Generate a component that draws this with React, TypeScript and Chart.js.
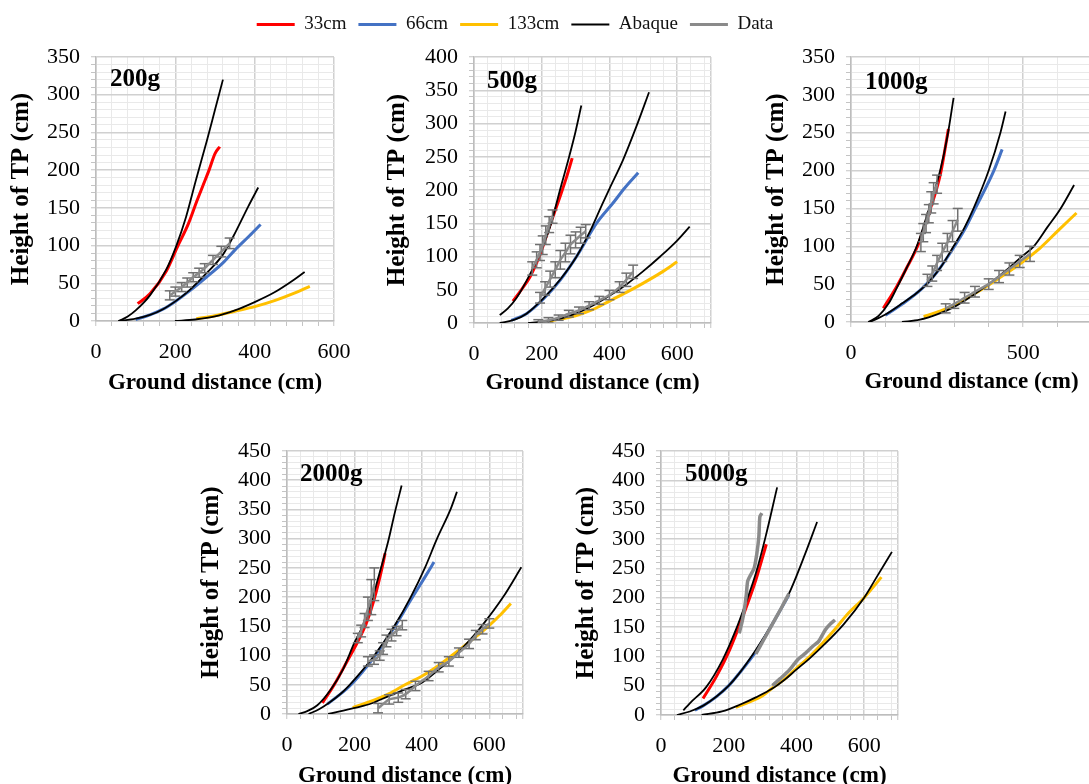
import React, { useEffect, useRef } from "react";
import { Chart, registerables } from "chart.js";
Chart.register(...registerables);

type Pt = [number, number];
const FONT = "'Liberation Serif', 'Times New Roman', serif";
Chart.defaults.font.family = FONT;

const seriesNames = ["33cm", "66cm", "133cm", "Abaque", "Data"];
const seriesColors = ["#ff0000", "#4472c4", "#ffc000", "#000000", "#8a8a8a"];
const legendWidths = [3, 3, 3, 2, 3];

// ---------- 200 g ----------
const abq200A: Pt[] = [[58,0],[80,6],[100,14],[136,34],[177,68],[202,99],[227,138],[252,187],[280,240],[300,280],[320,320]];
const abq200B: Pt[] = [[56,0],[100,3],[136,8],[170,16],[200,26],[236,41],[278,63],[320,88],[346,112],[384,152],[409,177]];
const abq200C: Pt[] = [[199,0],[250,2],[300,6],[350,14],[400,25],[450,38],[500,55],[526,65]];
const red200: Pt[] = [[105,23],[136,36],[177,66],[205,98],[233,129],[255,160],[270,180],[285,200],[300,222],[312,231]];
const blue200: Pt[] = [[100,2],[136,8],[170,16],[200,26],[236,40],[278,58],[320,77],[350,94],[387,113],[415,128]];
const yel200: Pt[] = [[253,3],[300,7],[350,13],[400,19],[450,27],[500,37],[539,46]];
const dat200B: Pt[] = [[186,34],[200,39],[216,45],[230,51],[245,58],[260,64],[274,70],[295,81],[316,92],[337,103]];
const err200B = [6,6,6,6,6,6,6,6,7,7];

// ---------- 500 g ----------
const abq500A: Pt[] = [[76,12],[100,22],[126,38],[166,74],[195,105],[225,145],[254,200],[280,248],[300,288],[317,327]];
const abq500B: Pt[] = [[76,0],[120,5],[155,14],[205,37],[254,65],[303,100],[340,135],[380,180],[401,203],[440,245],[480,296],[517,347]];
const abq500C: Pt[] = [[160,0],[200,2],[250,6],[300,14],[350,26],[400,41],[450,58],[500,78],[550,100],[600,124],[637,145]];
const red500: Pt[] = [[115,33],[140,50],[166,70],[195,103],[225,148],[254,190],[275,222],[290,248]];
const blue500: Pt[] = [[110,4],[155,14],[205,36],[254,64],[303,100],[362,150],[410,180],[445,203],[485,226]];
const yel500: Pt[] = [[224,3],[300,11],[350,20],[400,33],[450,46],[500,60],[550,75],[600,92]];
const dat500A: Pt[] = [[172,82],[185,95],[195,106],[203,117],[212,132],[222,148],[232,160]];
const err500A = [10,12,12,14,14,12,10];
const dat500B: Pt[] = [[195,38],[210,52],[225,66],[240,80],[255,95],[270,106],[285,118],[300,125],[315,132],[330,138]];
const err500B = [8,10,12,12,14,14,14,12,12,10];
const dat500C: Pt[] = [[190,2],[220,4],[250,8],[280,14],[310,19],[340,26],[370,34],[400,42],[430,54],[450,65],[470,77]];
const err500C = [3,4,4,5,5,6,6,7,8,10,10];

// ---------- 1000 g ----------
const abq1000A: Pt[] = [[50,0],[80,8],[110,25],[133,45],[160,70],[191,100],[220,140],[259,200],[280,245],[298,296]];
const abq1000B: Pt[] = [[55,0],[100,10],[150,25],[190,38],[220,50],[260,72],[298,100],[330,125],[356,150],[400,200],[434,250],[449,278]];
const abq1000C: Pt[] = [[148,0],[200,3],[250,10],[300,20],[350,34],[400,50],[450,68],[500,88],[531,100],[570,125],[609,150],[648,181]];
const red1000: Pt[] = [[94,18],[133,47],[160,70],[195,102],[225,142],[260,196],[283,255]];
const blue1000: Pt[] = [[100,9],[150,24],[206,44],[250,66],[298,98],[330,122],[361,150],[415,200],[439,228]];
const yel1000: Pt[] = [[211,7],[250,13],[300,22],[350,35],[400,49],[450,64],[500,80],[550,98],[600,120],[655,144]];
const dat1000A: Pt[] = [[203,105],[210,118],[218,130],[226,143],[233,158],[240,170],[250,182]];
const err1000A = [12,12,12,12,14,14,12];
const dat1000B: Pt[] = [[222,55],[236,64],[250,78],[265,92],[280,105],[295,120],[310,135]];
const err1000B = [8,10,10,12,12,14,15];
const dat1000C: Pt[] = [[275,18],[300,24],[330,32],[360,40],[400,50],[430,60],[460,70],[490,80],[520,90]];
const err1000C = [6,6,7,7,7,8,8,8,10];

// ---------- 2000 g ----------
const abq2000A: Pt[] = [[34,0],[60,5],[90,15],[130,42],[165,75],[200,122],[224,150],[250,192],[274,240],[300,295],[320,345],[340,391]];
const abq2000B: Pt[] = [[64,0],[95,8],[127,20],[160,35],[186,50],[220,72],[259,100],[318,150],[367,200],[409,250],[445,300],[485,350],[504,380]];
const abq2000C: Pt[] = [[122,0],[205,11],[250,18],[303,31],[350,42],[401,54],[450,76],[499,100],[540,125],[577,150],[641,200],[695,251]];
const red2000: Pt[] = [[105,19],[140,50],[180,92],[210,124],[235,155],[250,180],[265,210],[281,248],[291,275]];
const blue2000: Pt[] = [[120,17],[186,48],[259,98],[318,148],[367,195],[410,235],[436,260]];
const yel2000: Pt[] = [[195,11],[250,22],[303,35],[350,50],[401,65],[440,79],[489,100],[540,123],[597,150],[630,168],[664,189]];
const dat2000A: Pt[] = [[210,130],[220,142],[230,160],[240,180],[250,200],[259,222]];
const err2000A = [8,10,12,20,30,28];
const dat2000B: Pt[] = [[240,90],[258,93],[275,100],[285,112],[295,125],[310,135],[325,142],[342,152]];
const err2000B = [8,8,8,10,10,10,8,8];
const dat2000C: Pt[] = [[270,10],[303,25],[330,28],[352,34],[381,48],[420,65],[450,80],[480,90],[510,105],[540,120],[560,135],[580,145],[600,155]];
const err2000C = [8,8,8,8,8,8,8,8,8,8,8,8,8];

// ---------- 5000 g ----------
const abq5000A: Pt[] = [[66,8],[85,20],[134,48],[182,94],[221,145],[250,190],[280,241],[309,304],[343,388]];
const abq5000B: Pt[] = [[47,0],[85,6],[125,16],[163,31],[200,50],[231,71],[280,111],[329,156],[378,207],[426,275],[461,329]];
const abq5000C: Pt[] = [[120,0],[180,6],[231,17],[280,30],[329,45],[365,60],[397,76],[440,97],[475,116],[540,155],[600,200],[640,238],[682,278]];
const red5000: Pt[] = [[124,28],[163,65],[202,110],[241,167],[280,230],[311,291]];
const blue5000: Pt[] = [[100,8],[125,16],[163,31],[200,50],[231,71],[280,108],[329,155],[378,205]];
const yel5000: Pt[] = [[221,13],[260,22],[300,33],[329,46],[365,61],[397,78],[440,100],[475,121],[514,146],[548,170],[600,200],[651,235]];
const dat5000A: Pt[] = [[231,139],[240,160],[246,179],[252,205],[256,228],[265,239],[275,250],[283,275],[289,304],[292,338],[298,344]];
const dat5000B: Pt[] = [[280,104],[305,130],[329,155],[355,182],[378,207]];
const dat5000C: Pt[] = [[329,50],[352,62],[378,76],[405,95],[426,105],[450,118],[465,125],[485,145],[500,155],[514,162]];

// tick labels
const xLabels600 = [0, 200, 400, 600];
const xLabels500 = [0, 500];
const yLabels350 = [0, 50, 100, 150, 200, 250, 300, 350];
const yLabels400 = [0, 50, 100, 150, 200, 250, 300, 350, 400];
const yLabels450 = [0, 50, 100, 150, 200, 250, 300, 350, 400, 450];

interface DataSet { pts: Pt[]; err?: number[] }
interface PanelCfg {
  label: string; xMax: number; yMax: number; xMinor: number; yMinor: number;
  xLabels: number[]; yLabels: number[];
  red: Pt[]; blue: Pt[]; yellow: Pt[]; abaque: Pt[][]; data: DataSet[]; dataWidth: number;
  box: { x: number; y: number; w: number; h: number };
  axisW: number; axisH: number; padTop: number; padRight: number;
  yTitlePad: number; xTitlePad: number; tag: { dx: number; dy: number };
}

const panels: PanelCfg[] = [
  { label: "200g", xMax: 600, yMax: 350, xMinor: 40, yMinor: 10, xLabels: xLabels600, yLabels: yLabels350,
    red: red200, blue: blue200, yellow: yel200, abaque: [abq200A, abq200B, abq200C],
    data: [{ pts: dat200B, err: err200B }], dataWidth: 2.5,
    box: { x: 0, y: 40, w: 354, h: 360 }, axisW: 96, axisH: 79, padTop: 17, padRight: 20,
    yTitlePad: 7, xTitlePad: 3, tag: { dx: 14, dy: 23 } },
  { label: "500g", xMax: 700, yMax: 400, xMinor: 40, yMinor: 10, xLabels: xLabels600, yLabels: yLabels400,
    red: red500, blue: blue500, yellow: yel500, abaque: [abq500A, abq500B, abq500C],
    data: [{ pts: dat500A, err: err500A }, { pts: dat500B, err: err500B }, { pts: dat500C, err: err500C }], dataWidth: 2.5,
    box: { x: 370, y: 40, w: 360, h: 360 }, axisW: 104, axisH: 77, padTop: 17, padRight: 19,
    yTitlePad: 13, xTitlePad: 3, tag: { dx: 13, dy: 25 } },
  { label: "1000g", xMax: 700, yMax: 350, xMinor: 100, yMinor: 10, xLabels: xLabels500, yLabels: yLabels350,
    red: red1000, blue: blue1000, yellow: yel1000, abaque: [abq1000A, abq1000B, abq1000C],
    data: [{ pts: dat1000A, err: err1000A }, { pts: dat1000B, err: err1000B }, { pts: dat1000C, err: err1000C }], dataWidth: 2.5,
    box: { x: 745, y: 40, w: 360, h: 360 }, axisW: 106, axisH: 78, padTop: 17, padRight: 13,
    yTitlePad: 17, xTitlePad: 4, tag: { dx: 14, dy: 26 } },
  { label: "2000g", xMax: 700, yMax: 450, xMinor: 40, yMinor: 10, xLabels: xLabels600, yLabels: yLabels450,
    red: red2000, blue: blue2000, yellow: yel2000, abaque: [abq2000A, abq2000B, abq2000C],
    data: [{ pts: dat2000A, err: err2000A }, { pts: dat2000B, err: err2000B }, { pts: dat2000C, err: err2000C }], dataWidth: 2.5,
    box: { x: 190, y: 430, w: 350, h: 370 }, axisW: 97, axisH: 86, padTop: 21, padRight: 17,
    yTitlePad: 7, xTitlePad: 10, tag: { dx: 13, dy: 24 } },
  { label: "5000g", xMax: 700, yMax: 450, xMinor: 40, yMinor: 10, xLabels: xLabels600, yLabels: yLabels450,
    red: red5000, blue: blue5000, yellow: yel5000, abaque: [abq5000A, abq5000B, abq5000C],
    data: [{ pts: dat5000A }, { pts: dat5000B }, { pts: dat5000C }], dataWidth: 3.5,
    box: { x: 570, y: 430, w: 350, h: 370 }, axisW: 91, axisH: 85, padTop: 21, padRight: 22,
    yTitlePad: 2, xTitlePad: 10, tag: { dx: 24, dy: 24 } },
];

const toXY = (pts: Pt[]) => pts.map(([x, y]) => ({ x, y }));
function barsOf(pts: Pt[], err: number[]) {
  const out: { x: number; y: number | null }[] = [];
  pts.forEach(([x, y], i) => {
    out.push({ x, y: y - err[i] }, { x, y: y + err[i] }, { x, y: null });
  });
  return out;
}
function ticksFor(max: number, step: number) {
  const t: number[] = [];
  for (let v = 0; v <= max + 1e-9; v += step) t.push(v);
  if (t[t.length - 1] !== max) t.push(max);
  return t;
}

const panelTagPlugin = {
  id: "panelTag",
  afterDraw(chart: any, _a: any, opts: any) {
    const { ctx, chartArea } = chart;
    ctx.save();
    ctx.font = `bold 25px ${FONT}`;
    ctx.fillStyle = "#000";
    ctx.textBaseline = "middle";
    ctx.textAlign = "left";
    ctx.fillText(opts.text, chartArea.left + opts.dx, chartArea.top + opts.dy);
    ctx.restore();
  },
};

function Panel({ cfg }: { cfg: PanelCfg }) {
  const ref = useRef<HTMLCanvasElement>(null);
  useEffect(() => {
    const [cRed, cBlue, cYel, cBlack, cGray] = seriesColors;
    const datasets: any[] = [];
    cfg.data.forEach((d) => {
      datasets.push({ label: "Data", data: toXY(d.pts), showLine: true, borderColor: cGray, borderWidth: cfg.dataWidth,
        pointRadius: 0, tension: 0.2 });
      if (d.err) {
        datasets.push({ label: "err", data: barsOf(d.pts, d.err), showLine: true, spanGaps: false, borderColor: "#707070",
          borderWidth: 1.5, pointStyle: "line", pointRadius: 5, pointBorderColor: "#707070", pointBorderWidth: 1.5 });
      }
    });
    cfg.abaque.forEach((a) => {
      datasets.push({ label: "Abaque", data: toXY(a), showLine: true, borderColor: cBlack, borderWidth: 1.8,
        pointRadius: 0, cubicInterpolationMode: "monotone" });
    });
    datasets.push({ label: "33cm", data: toXY(cfg.red), showLine: true, borderColor: cRed, borderWidth: 3, pointRadius: 0, cubicInterpolationMode: "monotone" });
    datasets.push({ label: "66cm", data: toXY(cfg.blue), showLine: true, borderColor: cBlue, borderWidth: 3, pointRadius: 0, cubicInterpolationMode: "monotone" });
    datasets.push({ label: "133cm", data: toXY(cfg.yellow), showLine: true, borderColor: cYel, borderWidth: 3, pointRadius: 0, cubicInterpolationMode: "monotone" });

    const xTicks = ticksFor(cfg.xMax, cfg.xMinor);
    const yTicks = ticksFor(cfg.yMax, cfg.yMinor);
    const isMajX = (v: number) => cfg.xLabels.includes(v) || v === cfg.xMax;
    const isMajY = (v: number) => cfg.yLabels.includes(v);

    const chart = new Chart(ref.current!, {
      type: "scatter",
      data: { datasets },
      plugins: [panelTagPlugin],
      options: {
        animation: false,
        responsive: false,
        devicePixelRatio: 1,
        layout: { padding: { top: cfg.padTop, right: cfg.padRight, left: 0, bottom: 0 } },
        plugins: {
          legend: { display: false },
          tooltip: { enabled: false },
          panelTag: { text: cfg.label, dx: cfg.tag.dx, dy: cfg.tag.dy },
        } as any,
        scales: {
          x: {
            type: "linear", min: 0, max: cfg.xMax,
            afterBuildTicks: (s: any) => { s.ticks = xTicks.map((v) => ({ value: v })); },
            afterFit: (s: any) => { s.height = cfg.axisH; s.paddingLeft = 0; s.paddingRight = 0; s.paddingTop = 0; s.paddingBottom = 0; },
            ticks: { autoSkip: false, maxRotation: 0, padding: 13, color: "#000", font: { size: 22, family: FONT },
              callback: (v: any) => (cfg.xLabels.includes(Number(v)) ? String(v) : "") },
            grid: {
              color: (c: any) => (isMajX(c.tick?.value) ? "#d0d0d0" : "#e9e9e9"),
              lineWidth: (c: any) => (isMajX(c.tick?.value) ? 1.5 : 1),
              tickLength: 5, tickColor: "#c4c4c4", tickWidth: 1,
            },
            border: { display: true, color: "#bdbdbd", width: 1.5 },
            title: { display: true, text: "Ground distance (cm)", color: "#000", font: { size: 23, weight: "bold", family: FONT },
              padding: { top: 0, bottom: cfg.xTitlePad } },
          },
          y: {
            type: "linear", min: 0, max: cfg.yMax,
            afterBuildTicks: (s: any) => { s.ticks = yTicks.map((v) => ({ value: v })); },
            afterFit: (s: any) => { s.width = cfg.axisW; s.paddingLeft = 0; s.paddingRight = 0; s.paddingTop = 0; s.paddingBottom = 0; },
            ticks: { autoSkip: false, padding: 11, color: "#000", font: { size: 22, family: FONT },
              callback: (v: any) => (cfg.yLabels.includes(Number(v)) ? String(v) : "") },
            grid: {
              color: (c: any) => (isMajY(c.tick?.value) ? "#d0d0d0" : "#e9e9e9"),
              lineWidth: (c: any) => (isMajY(c.tick?.value) ? 1.5 : 1),
              tickLength: 5, tickColor: "#c4c4c4", tickWidth: 1,
            },
            border: { display: true, color: "#bdbdbd", width: 1.5 },
            title: { display: true, text: "Height of TP (cm)", color: "#000", font: { size: 25, weight: "bold", family: FONT },
              padding: { top: cfg.yTitlePad, bottom: 0 } },
          },
        },
      } as any,
    });
    return () => chart.destroy();
  }, [cfg]);
  const { x, y, w, h } = cfg.box;
  return (
    <canvas ref={ref} width={w} height={h}
      style={{ position: "absolute", left: x, top: y, width: w, height: h }} />
  );
}

function LegendChart() {
  const ref = useRef<HTMLCanvasElement>(null);
  useEffect(() => {
    const chart = new Chart(ref.current!, {
      type: "scatter",
      data: {
        datasets: seriesNames.map((n, i) => ({ label: n, data: [], borderColor: seriesColors[i], backgroundColor: seriesColors[i],
          borderWidth: legendWidths[i], pointBorderColor: seriesColors[i], pointBorderWidth: legendWidths[i] })),
      },
      options: {
        animation: false,
        responsive: false,
        devicePixelRatio: 1,
        layout: { padding: { top: 3 } },
        scales: { x: { display: false }, y: { display: false } },
        plugins: {
          tooltip: { enabled: false },
          legend: {
            display: true, position: "top", maxHeight: 60,
            labels: {
              usePointStyle: true, pointStyle: "line", pointStyleWidth: 38, padding: 12, color: "#111",
              font: { size: 19, family: FONT },
              generateLabels: (ch: any) => ch.data.datasets.map((d: any, i: number) => ({
                text: d.label, strokeStyle: seriesColors[i], fillStyle: seriesColors[i], lineWidth: legendWidths[i],
                pointStyle: "line", hidden: false, datasetIndex: i, fontColor: "#111",
              })),
            },
          },
        },
      } as any,
    });
    return () => chart.destroy();
  }, []);
  return <canvas ref={ref} width={1030} height={120} style={{ position: "absolute", left: 0, top: 0, width: 1030, height: 120 }} />;
}

export default function App() {
  return (
    <div style={{ position: "absolute", left: 0, top: 0, width: 1089, height: 784, overflow: "hidden", background: "#fff" }}>
      <LegendChart />
      {panels.map((p) => <Panel key={p.label} cfg={p} />)}
    </div>
  );
}
